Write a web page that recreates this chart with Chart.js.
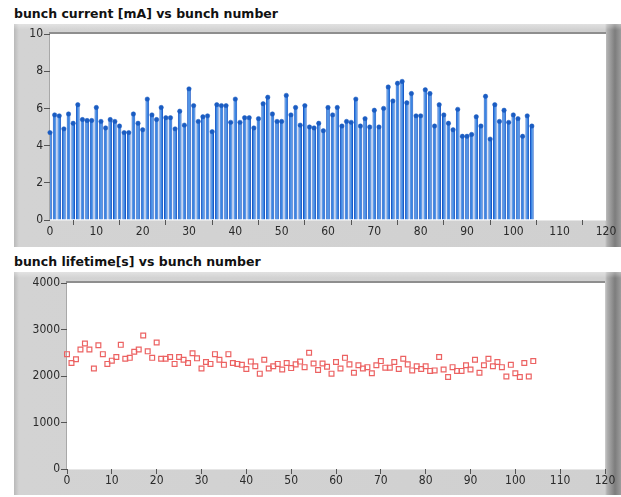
<!DOCTYPE html>
<html>
<head>
<meta charset="utf-8">
<script src="https://cdn.jsdelivr.net/npm/chart.js@4/dist/chart.umd.min.js"></script>
<style>
  html, body { margin: 0; padding: 0; background: #fff; }
  body { width: 621px; height: 497px; position: relative; overflow: hidden; }
  .title {
    position: absolute; left: 14px;
    font-family: "DejaVu Sans", sans-serif; font-weight: bold; font-size: 12.5px;
    line-height: 13px; color: #111; white-space: nowrap;
  }
  .frame {
    position: absolute; left: 14px; width: 607px; height: 223px;
    background:
      linear-gradient(to bottom, rgba(255,255,255,0.35) 0, rgba(255,255,255,0) 6px),
      linear-gradient(to right, #b9b9b9 0, #d3d3d3 5px, #d0d0d0 calc(100% - 16px),
                      #b0b0b0 calc(100% - 14px), #7d7d7d calc(100% - 6px), #9c9c9c 100%);
  }
  .frame canvas { position: absolute; left: 0; top: 0; }
</style>
</head>
<body>
<div class="title" style="top:7px">bunch current [mA] vs bunch number</div>
<div class="frame" style="top:24px"><canvas id="current" width="607" height="223"></canvas></div>
<div class="title" style="top:255px">bunch lifetime[s] vs bunch number</div>
<div class="frame" style="top:272px"><canvas id="lifetime" width="607" height="223"></canvas></div>

<script>
// Stored bunch current per bunch [mA], bunch 0 upward
const currentMA = [
  4.7, 5.65, 5.6, 4.9, 5.7, 5.2, 6.2, 5.4, 5.35, 5.35,
  6.05, 5.3, 4.95, 5.4, 5.3, 5.05, 4.7, 4.7, 5.7, 5.2,
  4.85, 6.5, 5.65, 5.4, 6.05, 5.5, 5.5, 4.9, 5.85, 5.1,
  7.05, 6.15, 5.3, 5.55, 5.6, 4.75, 6.2, 6.15, 6.15, 5.25,
  6.5, 5.25, 5.5, 5.5, 4.95, 5.45, 6.25, 6.6, 5.7, 5.3,
  5.3, 6.7, 5.65, 6.05, 5.1, 6.15, 5.0, 4.95, 5.2, 4.8,
  6.05, 5.65, 6.05, 5.05, 5.3, 5.25, 6.5, 5.05, 5.45, 5.0,
  5.9, 5.0, 6.0, 7.15, 6.4, 7.35, 7.45, 6.3, 6.8, 5.6,
  5.6, 7.0, 6.8, 5.05, 6.2, 5.65, 5.2, 4.85, 5.95, 4.5,
  4.5, 4.6, 5.55, 5.05, 6.65, 4.35, 6.2, 5.3, 5.9, 5.25,
  5.65, 5.45, 4.5, 5.6, 5.05
];

// Lifetime per bunch [s]
const lifetimeS = [
  2470, 2280, 2360, 2570, 2700, 2570, 2160, 2660, 2470, 2260,
  2330, 2410, 2670, 2370, 2390, 2520, 2570, 2870, 2530, 2390,
  2720, 2370, 2370, 2410, 2260, 2410, 2350, 2280, 2490, 2380,
  2160, 2300, 2260, 2470, 2350, 2240, 2470, 2280, 2260, 2240,
  2150, 2310, 2210, 2050, 2350, 2160, 2210, 2260, 2140, 2280,
  2170, 2250, 2310, 2190, 2500, 2270, 2130, 2270, 2200, 2050,
  2300, 2160, 2390, 2250, 2070, 2230, 2160, 2190, 2060, 2230,
  2320, 2180, 2180, 2300, 2150, 2370, 2250, 2120, 2210, 2150,
  2210, 2110, 2120, 2410, 2140, 1980, 2190, 2110, 2110, 2230,
  2140, 2350, 2070, 2230, 2370, 2210, 2300, 2190, 1990, 2240,
  2060, 1980, 2280, 1990, 2320
];

// Axis tick values
const bunchTicks = [0, 10, 20, 30, 40, 50, 60, 70, 80, 90, 100, 110, 120];
const currentTicks = [0, 2, 4, 6, 8, 10];
const lifetimeTicks = [0, 1000, 2000, 3000, 4000];

const tickFont = { family: "'Liberation Sans Narrow', 'DejaVu Sans Condensed', 'Liberation Sans', Arial, sans-serif", size: 12 };
const tickColor = '#2a2a2a';

// White plot area with a sunken grey edge
const plotWell = {
  id: 'plotWell',
  beforeDraw(chart) {
    const { ctx, chartArea: a } = chart;
    ctx.save();
    ctx.fillStyle = '#ffffff';
    ctx.fillRect(a.left, a.top, a.right - a.left, a.bottom - a.top);
    ctx.fillStyle = '#8e8e8e';
    ctx.fillRect(a.left - 1, a.top - 2, a.right - a.left + 1, 2);
    ctx.fillStyle = '#a8a8a8';
    ctx.fillRect(a.left - 1, a.top, 1, a.bottom - a.top);
    ctx.fillStyle = '#e6e6e6';
    ctx.fillRect(a.left - 1, a.bottom, a.right - a.left + 1, 1);
    ctx.restore();
  }
};

function fixTicks(values) {
  return (scale) => { scale.ticks = values.map(v => ({ value: v })); };
}

const plainLabel = (v) => String(v);

function xAxis(height) {
  return {
    type: 'linear', min: 0, max: 120, offset: false,
    afterBuildTicks: fixTicks(bunchTicks),
    afterFit: (s) => { s.height = height; },
    border: { display: false },
    grid: { drawOnChartArea: false, drawTicks: true, tickLength: 5, color: '#555', tickColor: '#555' },
    ticks: { font: tickFont, color: tickColor, padding: 0, maxRotation: 0, autoSkip: false, callback: plainLabel }
  };
}

function yAxis(width, max, values) {
  return {
    min: 0, max: max,
    afterBuildTicks: fixTicks(values),
    afterFit: (s) => { s.width = width; },
    border: { display: false },
    grid: { drawOnChartArea: false, drawTicks: true, tickLength: 6, color: '#555', tickColor: '#555' },
    ticks: { font: tickFont, color: tickColor, padding: 1, autoSkip: false, callback: plainLabel }
  };
}

const common = {
  responsive: false,
  animation: false,
  devicePixelRatio: 1,
  plugins: { legend: { display: false }, tooltip: { enabled: false } },
  events: []
};

// Bunch current: bars with a dot on each top
new Chart(document.getElementById('current'), {
  type: 'bar',
  data: {
    datasets: [
      {
        type: 'line',
        data: currentMA.map((v, i) => ({ x: i, y: v })),
        showLine: false,
        pointRadius: 2.2,
        pointBackgroundColor: '#1a5cc2',
        pointBorderColor: '#1a5cc2',
        pointBorderWidth: 0.5,
        clip: 3,
        order: 0
      },
      {
        type: 'bar',
        data: currentMA.map((v, i) => ({ x: i, y: v })),
        backgroundColor: '#3a86e4',
        borderColor: '#1858c6',
        borderWidth: { left: 1, right: 1, top: 0, bottom: 0 },
        borderSkipped: false,
        barPercentage: 1.0,
        categoryPercentage: 0.8,
        clip: 0,
        order: 1
      }
    ]
  },
  options: Object.assign({}, common, {
    layout: { padding: { top: 10, right: 15, left: 0, bottom: 0 } },
    scales: {
      x: xAxis(27),
      y: yAxis(36, 10, currentTicks)
    }
  }),
  plugins: [plotWell]
});

// Bunch lifetime: open squares
new Chart(document.getElementById('lifetime'), {
  type: 'scatter',
  data: {
    datasets: [{
      data: lifetimeS.map((v, i) => ({ x: i, y: v })),
      pointStyle: 'rect',
      pointRadius: 3.4,
      pointBorderWidth: 1.2,
      pointBorderColor: '#ec6262',
      pointBackgroundColor: 'rgba(255,255,255,0)',
      clip: 4
    }]
  },
  options: Object.assign({}, common, {
    layout: { padding: { top: 11, right: 16, left: 0, bottom: 0 } },
    scales: {
      x: xAxis(26),
      y: yAxis(53, 4000, lifetimeTicks)
    }
  }),
  plugins: [plotWell]
});
</script>
</body>
</html>
